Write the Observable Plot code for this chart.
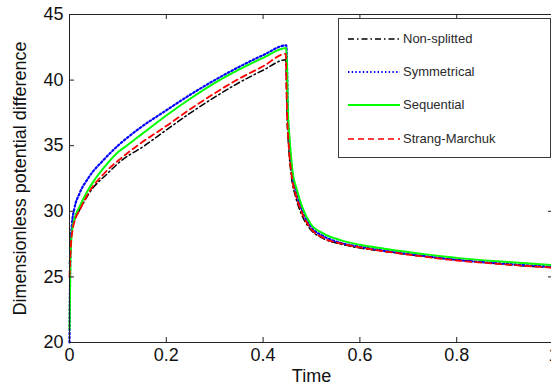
<!DOCTYPE html>
<html><head><meta charset="utf-8">
<script src="https://cdn.jsdelivr.net/npm/d3@7"></script>
<script src="https://cdn.jsdelivr.net/npm/@observablehq/plot@0.6"></script>
<style>
body{margin:0;background:#fff;}
#wrap{position:relative;width:551px;height:389px;overflow:hidden;font-family:"Liberation Sans",Arial,sans-serif;}
#legend{position:absolute;left:338px;top:18px;width:213px;height:140px;border:1px solid #3a3a3a;background:#fff;box-sizing:border-box;}
.item{position:absolute;left:0;height:20px;width:210px;}
.item svg{position:absolute;left:8px;top:0;}
.item span{position:absolute;left:64px;top:1px;font-size:13px;color:#2a2a2a;line-height:18px;white-space:nowrap;}
</style>
</head><body>
<div id="wrap"></div>
<script>
// Series names
const seriesNames = ["Non-splitted", "Symmetrical", "Sequential", "Strang-Marchuk"];

// Non-splitted (black dash-dot)
const tNon = [0,0.003,0.006,0.012,0.021,0.041,0.079,0.105,0.155,0.2,0.25,0.3,0.35,0.4,0.447,0.448,0.4495,0.453,0.458,0.468,0.479,0.496,0.523,0.56,0.6,0.65,0.7,0.8,0.9,1.0];
const vNon = [26,28.0,28.8,29.5,30.1,31.4,32.9,33.8,35.0,36.2,37.5,38.7,39.8,40.75,41.55,39.8,37.3,34.8,32.8,31.0,29.8,28.7,27.95,27.5,27.2,26.95,26.7,26.3,25.95,25.7];

// Symmetrical (blue dotted)
const tSym = [0,0.002,0.005,0.01,0.02,0.04,0.07,0.1,0.14,0.2,0.25,0.3,0.35,0.4,0.448,0.4498,0.451,0.455,0.46,0.47,0.481,0.498,0.525,0.56,0.6,0.65,0.7,0.8,0.9,1.0];
const vSym = [20,27,29.0,30.2,31.3,32.6,33.9,35.0,36.2,37.7,38.9,40.0,41.0,41.9,42.65,40.3,37.6,35.0,33.0,31.3,30.0,28.85,28.1,27.6,27.3,27.0,26.75,26.3,26.0,25.75];

// Sequential (green solid)
const tSeq = [0,0.002,0.005,0.01,0.02,0.035,0.05,0.075,0.1,0.118,0.15,0.2,0.25,0.31,0.35,0.4,0.448,0.4498,0.451,0.455,0.46,0.47,0.481,0.498,0.525,0.56,0.6,0.65,0.7,0.8,0.9,1.0];
const vSeq = [21,26.5,28.4,29.4,30.3,31.4,32.3,33.5,34.5,35.0,35.9,37.3,38.6,40.0,40.8,41.7,42.45,40.5,37.9,35.4,33.3,31.6,30.3,29.05,28.3,27.8,27.45,27.15,26.9,26.45,26.15,25.9];

// Strang-Marchuk (red dashed)
const tSM = [0,0.003,0.006,0.012,0.021,0.041,0.072,0.105,0.14,0.2,0.25,0.3,0.35,0.4,0.447,0.448,0.4495,0.453,0.458,0.468,0.479,0.496,0.523,0.56,0.6,0.65,0.7,0.8,0.9,1.0];
const vSM = [25,27.5,28.5,29.4,30.1,31.5,32.9,34.0,35.0,36.5,37.8,39.0,40.1,41.05,42.0,40.0,37.5,35.0,33.0,31.2,30.0,28.8,28.0,27.55,27.25,26.95,26.7,26.25,25.95,25.7];

// Ticks
const xTicks = [0, 0.2, 0.4, 0.6, 0.8, 1];
const yTicks = [20, 25, 30, 35, 40, 45];

const styles = [
  {stroke: "#000000", strokeWidth: 1.5, dash: "6,3,1.5,3"},
  {stroke: "#0000ff", strokeWidth: 2.2, dash: "1.6,2.4"},
  {stroke: "#00ff00", strokeWidth: 2, dash: null},
  {stroke: "#ff0000", strokeWidth: 1.8, dash: "6,4"}
];
const series = [[tNon, vNon], [tSym, vSym], [tSeq, vSeq], [tSM, vSM]].map(([t, v]) => t.map((x, i) => ({t: x, v: v[i]})));

const W = 551, H = 389, mL = 69, mT = 14, mB = 47, mR = -2;
const plotW = W - mR - mL, plotH = H - mT - mB;
const FONT = '"Liberation Sans", Arial, sans-serif';

const lineMarks = series.map((d, i) => Plot.line(d, {
  x: "t", y: "v", stroke: styles[i].stroke, strokeWidth: styles[i].strokeWidth,
  strokeDasharray: styles[i].dash, strokeLinejoin: "round", curve: "monotone-x"
}));

const chart = Plot.plot({
  width: W, height: H,
  marginLeft: mL, marginTop: mT, marginBottom: mB, marginRight: mR,
  style: {fontFamily: FONT, fontSize: "18px", color: "#111", background: "#fff"},
  x: {domain: [0, 1], label: null},
  y: {domain: [20, 45], label: null},
  marks: [
    ...lineMarks,
    Plot.frame({stroke: "#222", strokeWidth: 1}),
    Plot.tickX(xTicks, {x: d => d, stroke: "#222", insetTop: plotH - 5}),
    Plot.tickX(xTicks, {x: d => d, stroke: "#222", insetBottom: plotH - 5}),
    Plot.tickY(yTicks, {y: d => d, stroke: "#222", insetRight: plotW - 5}),
    Plot.tickY(yTicks, {y: d => d, stroke: "#222", insetLeft: plotW - 5}),
    Plot.axisX({ticks: xTicks, tickSize: 0, tickPadding: 6, tickFormat: d => String(d), label: null, fontSize: 18, fill: "#111"}),
    Plot.axisY({ticks: yTicks, tickSize: 0, tickPadding: 6, tickFormat: d => String(d), label: null, fontSize: 18, fill: "#111"}),
    Plot.text(["Time"], {text: d => d, frameAnchor: "bottom", textAnchor: "middle", lineAnchor: "middle", dy: 34, fontSize: 18, fill: "#111"}),
    Plot.text(["Dimensionless potential difference"], {text: d => d, frameAnchor: "left", textAnchor: "middle", lineAnchor: "middle", dx: -49, rotate: -90, fontSize: 18, fill: "#111"})
  ]
});

const wrap = document.getElementById("wrap");
wrap.appendChild(chart);

// Legend
const legend = document.createElement("div");
legend.id = "legend";
const legendStyles = [
  {stroke: "#000", w: 1.6, dash: "6,3,1.5,3"},
  {stroke: "#0000ff", w: 1.8, dash: "1.4,2.3"},
  {stroke: "#00ff00", w: 1.8, dash: null},
  {stroke: "#ff0000", w: 1.4, dash: "6,4"}
];
seriesNames.forEach((name, i) => {
  const item = document.createElement("div");
  item.className = "item";
  item.style.top = (10 + i * 33.2) + "px";
  const s = legendStyles[i];
  item.innerHTML = `<svg width="54" height="20"><line x1="1" y1="10" x2="53" y2="10" stroke="${s.stroke}" stroke-width="${s.w}" ${s.dash ? `stroke-dasharray="${s.dash}"` : ""}/></svg><span>${name}</span>`;
  legend.appendChild(item);
});
wrap.appendChild(legend);
</script>
</body></html>
